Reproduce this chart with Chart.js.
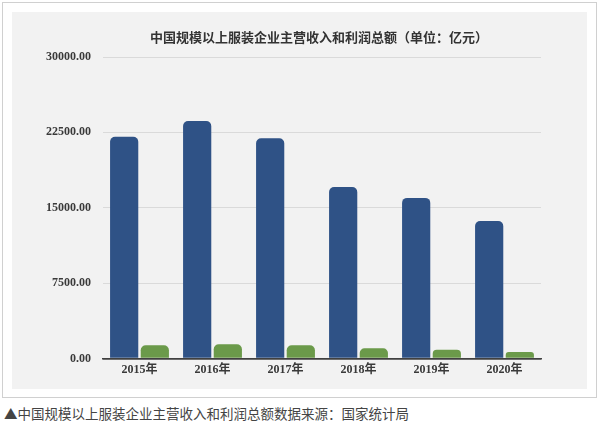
<!DOCTYPE html>
<html>
<head>
<meta charset="utf-8">
<script src="https://cdn.jsdelivr.net/npm/chart.js"></script>
<style>
    body { margin: 0; background: #fff; width: 600px; height: 435px; position: relative; overflow: hidden; }
    #frame { position: absolute; left: 2px; top: 2px; width: 595px; height: 396px; border: 1px solid #d0d0d0; box-sizing: border-box; }
    #panel { position: absolute; left: 12px; top: 12px; width: 575px; height: 377px; background: #f2f2f2; }
    #title { position: absolute; left: 119px; top: 29px; width: 400px; text-align: center; font: bold 13px "Noto Sans CJK SC", sans-serif; color: #333; line-height: 16px; white-space: nowrap; }
    #caption { position: absolute; left: 4px; top: 405px; font: 13.5px "Noto Sans CJK SC", sans-serif; color: #444; line-height: 16px; white-space: nowrap; }
    canvas { position: absolute; left: 0; top: 0; }
</style>
</head>
<body>
<div id="frame"></div>
<div id="panel"><canvas id="myChart" width="575" height="377"></canvas></div>
<div id="title">中国规模以上服装企业主营收入和利润总额（单位：亿元）</div>
<div id="caption">▲中国规模以上服装企业主营收入和利润总额数据来源：国家统计局</div>

<script>
    // 主营收入 / 利润总额 (亿元)
    const years = ['2015年', '2016年', '2017年', '2018年', '2019年', '2020年'];
    const revenue = [22076, 23625, 21908, 17072, 15987, 13688];
    const profit = [1322, 1421, 1322, 1026, 888, 661];
    const yTicks = [0, 7500, 15000, 22500, 30000];

    const tickFont = { family: '"Liberation Serif", "Noto Sans CJK SC", serif', size: 12, weight: 'bold' };

    const ctx = document.getElementById('myChart').getContext('2d');
    const myChart = new Chart(ctx, {
        type: 'bar',
        data: {
            labels: years,
            datasets: [{
                label: '主营收入',
                data: revenue,
                backgroundColor: '#2f5286',
                borderRadius: 5,
                borderSkipped: 'start'
            }, {
                label: '利润总额',
                data: profit,
                backgroundColor: '#6b9a4a',
                borderRadius: 5,
                borderSkipped: 'start'
            }]
        },
        options: {
            responsive: false,
            animation: false,
            layout: { padding: { left: 32, right: 46, top: 45, bottom: 8 } },
            datasets: { bar: { categoryPercentage: 0.84, barPercentage: 0.92 } },
            plugins: {
                legend: { display: false },
                tooltip: { enabled: false }
            },
            scales: {
                x: {
                    grid: { display: false, drawTicks: false },
                    border: { display: true, color: '#404040', width: 1.5 },
                    ticks: { color: '#3a3a3a', font: tickFont, padding: 4 }
                },
                y: {
                    min: 0,
                    max: 30000,
                    afterBuildTicks: function (scale) {
                        scale.ticks = yTicks.map(v => ({ value: v }));
                    },
                    afterFit: function (scale) { scale.width = 59; },
                    grid: {
                        color: c => c.tick && c.tick.value === 0 ? '#404040' : '#dadada',
                        lineWidth: c => c.tick && c.tick.value === 0 ? 1.5 : 1,
                        drawTicks: false
                    },
                    border: { display: false },
                    ticks: {
                        color: '#3a3a3a',
                        font: tickFont,
                        padding: 12,
                        callback: v => Number(v).toFixed(2)
                    }
                }
            }
        }
    });
</script>
</body>
</html>
